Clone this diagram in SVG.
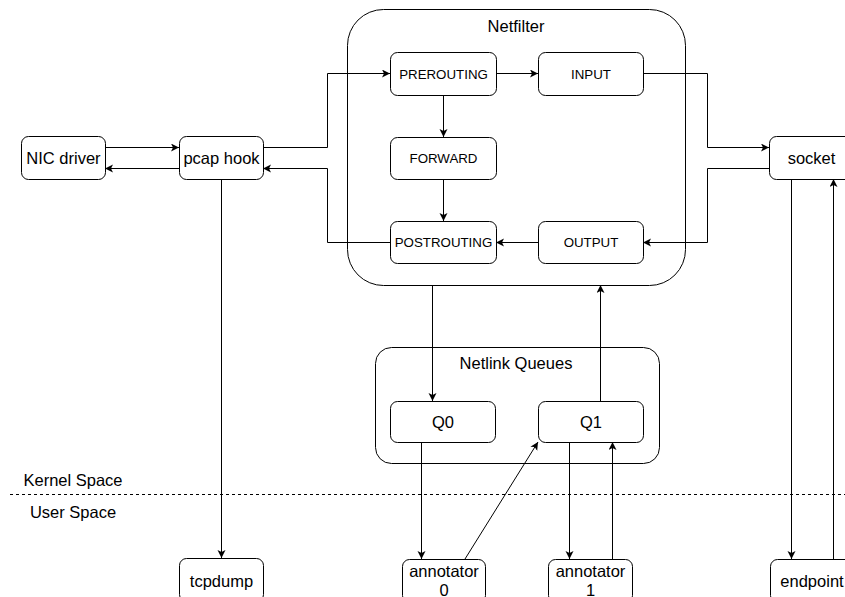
<svg xmlns="http://www.w3.org/2000/svg" width="845" height="597" viewBox="0 0 845 597">
<defs>
<marker id="arr" markerUnits="userSpaceOnUse" markerWidth="10" markerHeight="10" refX="8" refY="4" orient="auto">
<path d="M0,0 L8,4 L0,8 L2,4 Z" fill="#000"/>
</marker>
<style>
.box{fill:#fff;stroke:#000;stroke-width:1}
.cont{fill:none;stroke:#000;stroke-width:1}
.t{font-family:"Liberation Sans",Arial,sans-serif;font-size:16.5px;fill:#000;text-anchor:middle;dominant-baseline:central}
.s{font-family:"Liberation Sans",Arial,sans-serif;font-size:13.3px;fill:#000;text-anchor:middle;dominant-baseline:central}
.c{fill:none;stroke:#000;stroke-width:1}
.a{fill:none;stroke:#000;stroke-width:1;marker-end:url(#arr)}
</style>
</defs>
<rect width="845" height="597" fill="#fff"/>
<g id="netfilter">
<rect class="cont" x="347.5" y="9.5" width="338" height="276" rx="36"/>
<text class="t" x="516" y="26">Netfilter</text>
</g>
<g id="netlink-queues">
<rect class="cont" x="375.5" y="347.5" width="284" height="116" rx="16"/>
<text class="t" x="516" y="363">Netlink Queues</text>
</g>
<g id="space-divider">
<line x1="10" y1="494.5" x2="845" y2="494.5" stroke="#000" stroke-width="1" stroke-dasharray="3,3"/>
<text class="t" x="73" y="480">Kernel Space</text>
<text class="t" x="73" y="512">User Space</text>
</g>
<g id="connectors">
<path class="a" d="M105,147.5 H179"/>
<path class="a" d="M179,168.5 H105"/>
<path class="a" d="M263,147.5 H327.5 V73.5 H390"/>
<path class="a" d="M390,242.5 H327.5 V168.5 H263"/>
<path class="a" d="M496,73.5 H538"/>
<path class="a" d="M443.5,95 V137"/>
<path class="a" d="M443.5,179 V221"/>
<path class="a" d="M538,242.5 H496"/>
<path class="a" d="M643,73.5 H707.5 V147.5 H769"/>
<path class="a" d="M769,168.5 H707.5 V242.5 H643"/>
<path class="a" d="M221.5,179 V558"/>
<path class="a" d="M432.5,285 V401"/>
<path class="a" d="M600.5,401 V285"/>
<path class="a" d="M421.5,442 V559"/>
<path class="a" d="M465,559 L538,442"/>
<path class="a" d="M569.5,442 V559"/>
<path class="a" d="M612.5,559 V442"/>
<path class="a" d="M791.5,179 V559"/>
<path class="a" d="M833.5,559 V179"/>
</g>
<g id="nic-driver">
<rect class="box" x="21.5" y="136.5" width="84" height="43" rx="7"/>
<text class="t" x="63.5" y="158">NIC driver</text>
</g>
<g id="pcap-hook">
<rect class="box" x="179.5" y="136.5" width="84" height="43" rx="7"/>
<text class="t" x="221.5" y="158">pcap hook</text>
</g>
<g id="prerouting">
<rect class="box" x="390.5" y="52.5" width="106" height="43" rx="7"/>
<text class="s" x="443.5" y="74">PREROUTING</text>
</g>
<g id="input">
<rect class="box" x="538.5" y="52.5" width="105" height="43" rx="7"/>
<text class="s" x="591" y="74">INPUT</text>
</g>
<g id="forward">
<rect class="box" x="390.5" y="137.5" width="106" height="42" rx="7"/>
<text class="s" x="443.5" y="158">FORWARD</text>
</g>
<g id="postrouting">
<rect class="box" x="390.5" y="221.5" width="106" height="42" rx="7"/>
<text class="s" x="443.5" y="242.5">POSTROUTING</text>
</g>
<g id="output">
<rect class="box" x="538.5" y="221.5" width="105" height="42" rx="7"/>
<text class="s" x="591" y="242.5">OUTPUT</text>
</g>
<g id="socket">
<rect class="box" x="769.5" y="136.5" width="84" height="43" rx="7"/>
<text class="t" x="811.5" y="158">socket</text>
</g>
<g id="q0">
<rect class="box" x="390.5" y="401.5" width="105" height="41" rx="7"/>
<text class="t" x="443" y="422">Q0</text>
</g>
<g id="q1">
<rect class="box" x="538.5" y="401.5" width="105" height="41" rx="7"/>
<text class="t" x="591" y="422">Q1</text>
</g>
<g id="tcpdump">
<rect class="box" x="179.5" y="558.5" width="84" height="43" rx="7"/>
<text class="t" x="221.5" y="581">tcpdump</text>
</g>
<g id="annotator-0">
<rect class="box" x="402.5" y="559.5" width="83" height="43" rx="7"/>
<text class="t" x="444" y="571">annotator</text>
<text class="t" x="444" y="590">0</text>
</g>
<g id="annotator-1">
<rect class="box" x="548.5" y="559.5" width="84" height="43" rx="7"/>
<text class="t" x="590.5" y="571">annotator</text>
<text class="t" x="590.5" y="590">1</text>
</g>
<g id="endpoint">
<rect class="box" x="770.5" y="559.5" width="84" height="43" rx="7"/>
<text class="t" x="812" y="581">endpoint</text>
</g>
</svg>
